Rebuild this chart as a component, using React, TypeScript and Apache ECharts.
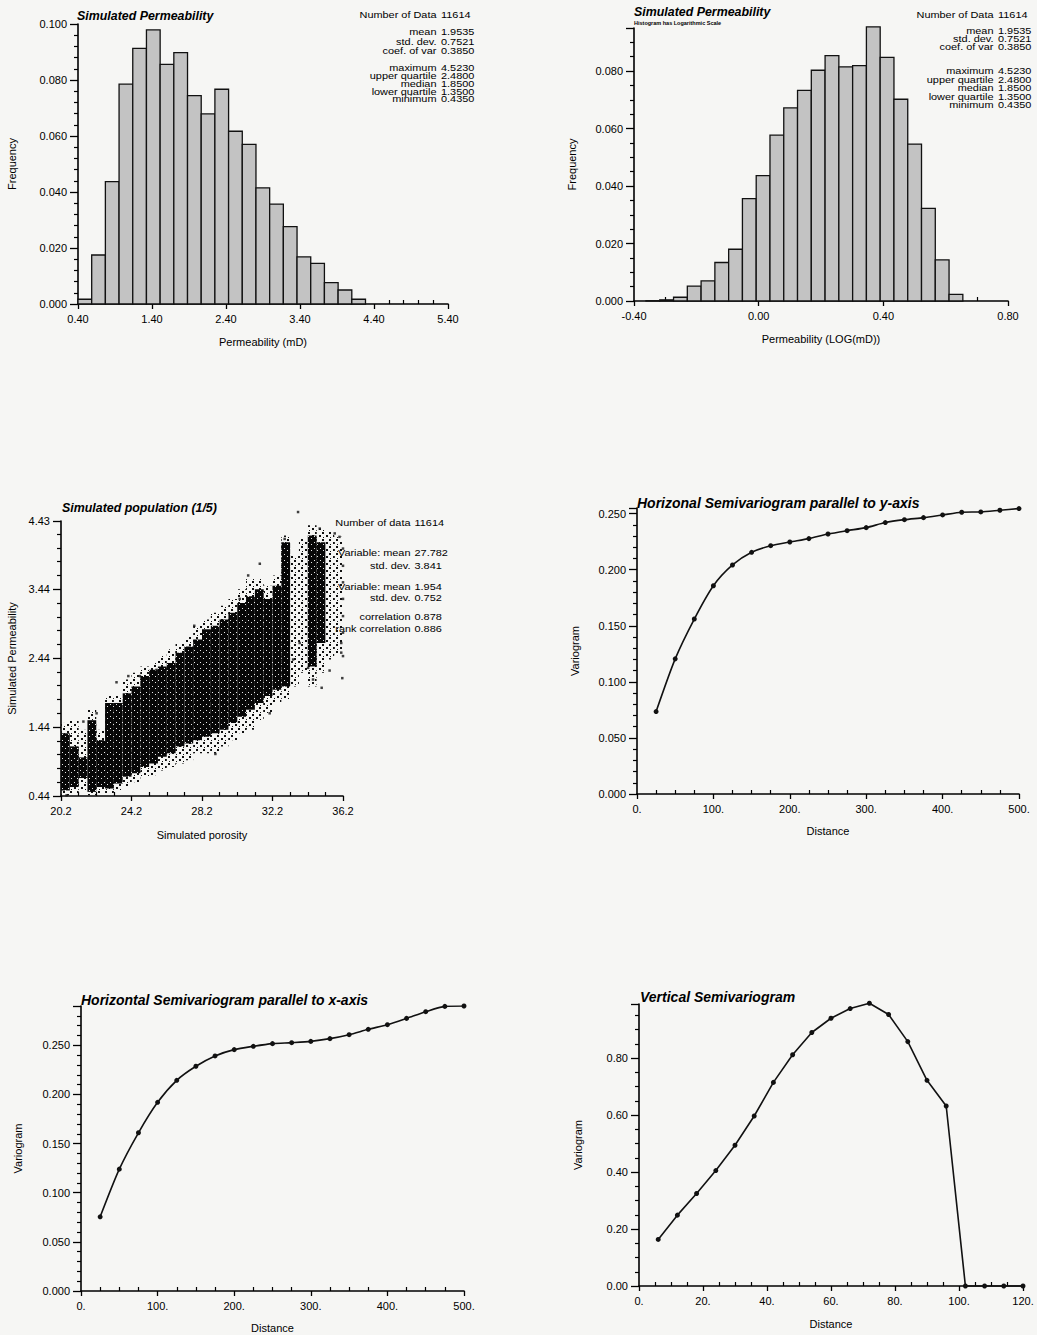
import React, { useEffect, useRef } from 'react';
import * as echarts from 'echarts';

const FONT = '"Liberation Sans", Arial, Helvetica, sans-serif';

// ---------- Histogram 1 : Permeability (mD) ----------
const permBinStart = 0.4;
const permBinWidth = 0.185;
const permFreq = [0.0017, 0.0175, 0.0437, 0.0785, 0.0913, 0.0979, 0.0856, 0.0898, 0.0744, 0.0679, 0.0767,
  0.0617, 0.057, 0.0415, 0.0357, 0.0276, 0.0168, 0.0145, 0.0076, 0.005, 0.0017];

// ---------- Histogram 2 : Permeability LOG(mD) ----------
const logBinStart = -0.3615;
const logBinWidth = 0.0442;
const logFreq = [0.0001, 0.0004, 0.0013, 0.0052, 0.007, 0.0134, 0.018, 0.0356, 0.0436, 0.0577, 0.0672, 0.0733,
  0.0803, 0.0854, 0.0815, 0.0819, 0.0954, 0.0848, 0.0702, 0.0546, 0.0322, 0.0143, 0.0023];

// ---------- Statistics ----------
const histStatLabels = ['Number of Data', 'mean', 'std. dev.', 'coef. of var', 'maximum', 'upper quartile', 'median', 'lower quartile', 'minimum'];
const histStatValues = ['11614', '1.9535', '0.7521', '0.3850', '4.5230', '2.4800', '1.8500', '1.3500', '0.4350'];
const scatStatLabels = ['Number of data', 'Variable: mean', 'std. dev.', 'Variable: mean', 'std. dev.', 'correlation', 'rank correlation'];
const scatStatValues = ['11614', '27.782', '3.841', '1.954', '0.752', '0.878', '0.886'];

// ---------- Scatter: porosity vs permeability (cloud envelope per porosity bin) ----------
const poroBinLeft = [20.2, 20.7, 21.2, 21.7, 22.2, 22.7, 23.2, 23.7, 24.2, 24.7, 25.2, 25.7, 26.2, 26.7, 27.2, 27.7,
  28.2, 28.7, 29.2, 29.7, 30.2, 30.7, 31.2, 31.7, 32.2, 32.7, 33.2, 33.7, 34.2, 34.7, 35.2, 35.7];
const poroBinWidth = 0.5;
const coreLow = [0.52, 0.57, 0.7, 0.5, 0.57, 0.55, 0.62, 0.72, 0.77, 0.86, 0.91, 1.01, 1.06, 1.16, 1.2, 1.25,
  1.3, 1.35, 1.4, 1.5, 1.59, 1.69, 1.79, 1.89, 1.98, 2.03, null, null, 2.32, 2.66, null, null];
const coreHigh = [1.35, 1.16, 1.0, 1.54, 1.25, 1.79, 1.79, 1.93, 2.03, 2.18, 2.27, 2.32, 2.37, 2.52, 2.61, 2.71,
  2.86, 2.91, 3.0, 3.1, 3.24, 3.34, 3.44, 3.3, 3.49, 4.12, null, null, 4.22, 4.12, null, null];
const haloLow = [0.45, 0.47, 0.52, 0.45, 0.47, 0.47, 0.52, 0.57, 0.64, 0.72, 0.74, 0.81, 0.86, 0.91, 0.96, 1.06,
  1.06, 1.06, 1.16, 1.25, 1.35, 1.4, 1.54, 1.64, 1.79, 1.84, 2.03, 2.23, 2.03, 2.23, 2.42, 2.5];
const haloHigh = [1.5, 1.54, 1.4, 1.69, 1.4, 1.89, 1.89, 2.13, 2.23, 2.32, 2.37, 2.47, 2.57, 2.66, 2.76, 2.91,
  3.0, 3.1, 3.2, 3.3, 3.44, 3.59, 3.59, 3.49, 3.64, 4.22, 3.93, 4.17, 4.37, 4.32, 4.27, 4.2];
const outlierPoro = [33.65, 23.35, 34.5, 34.99, 36.16, 28.96, 32.04, 22.22, 21.47, 35.44, 36.1, 36.1, 34.88, 35.73,
  36.0, 36.2, 36.2, 36.2, 36.2, 36.2, 36.2, 36.2, 31.48, 32.89, 27.76, 20.52, 25.62, 24.68, 24.02, 30.82, 30.34,
  33.37, 33.74, 34.22];
const outlierPerm = [4.56, 2.09, 2.13, 2.01, 2.15, 1.05, 1.64, 1.64, 1.52, 2.26, 2.66, 2.52, 4.32, 4.25, 4.2, 4.03,
  3.78, 3.54, 3.3, 3.05, 2.81, 2.47, 3.81, 4.17, 2.91, 0.45, 2.27, 2.18, 2.18, 3.64, 3.3, 2.42, 2.66, 2.3];

// ---------- Semivariograms ----------
const varYDist = [25, 50, 75, 100, 125, 150, 175, 200, 225, 250, 275, 300, 325, 350, 375, 400, 425, 450, 475, 500];
const varYValue = [0.0735, 0.1205, 0.156, 0.1857, 0.2042, 0.2155, 0.2214, 0.2247, 0.2277, 0.2318, 0.2348, 0.2375,
  0.242, 0.2446, 0.2464, 0.2488, 0.2512, 0.2515, 0.253, 0.2545];
const varXDist = [25, 50, 75, 100, 125, 150, 175, 200, 225, 250, 275, 300, 325, 350, 375, 400, 425, 450, 475, 500];
const varXValue = [0.0755, 0.124, 0.161, 0.192, 0.2144, 0.2287, 0.2392, 0.2456, 0.249, 0.2517, 0.2527, 0.254,
  0.2568, 0.2608, 0.2663, 0.271, 0.2774, 0.2842, 0.2896, 0.29];
const vertDist = [6, 12, 18, 24, 30, 36, 42, 48, 54, 60, 66, 72, 78, 84, 90, 96, 102, 108, 114, 120];
const vertValue = [0.1635, 0.2488, 0.3247, 0.4053, 0.494, 0.5968, 0.7148, 0.8117, 0.89, 0.94, 0.974, 0.9927, 0.953,
  0.858, 0.722, 0.632, 0, 0, 0, 0];

function makePattern(size: number, bg: string | null, dots: number[][], dotColor: string) {
  const c = document.createElement('canvas');
  c.width = size;
  c.height = size;
  const ctx = c.getContext('2d')!;
  if (bg) {
    ctx.fillStyle = bg;
    ctx.fillRect(0, 0, size, size);
  }
  ctx.fillStyle = dotColor;
  dots.forEach(([x, y, w, h]) => ctx.fillRect(x, y, w, h));
  return { image: c.toDataURL(), repeat: 'repeat', imageWidth: size, imageHeight: size };
}

function isStep(v: number, min: number, interval: number) {
  const k = (v - min) / interval;
  return Math.abs(k - Math.round(k)) < 1e-6;
}

function makeAxis(dim: 'x' | 'y', grid: number, min: number, max: number, interval: number, minor: number,
  fmt: (v: number) => string, name: string, nameGap: number, showMax = false) {
  const isX = dim === 'x';
  return {
    type: 'value',
    gridIndex: grid,
    min,
    max,
    interval,
    name,
    nameLocation: 'middle',
    nameGap,
    nameTextStyle: { color: '#000', fontSize: 11, fontFamily: FONT },
    axisLine: { show: true, onZero: false, lineStyle: { color: '#000', width: 1.6 } },
    axisTick: { show: true, length: isX ? 5 : 8, lineStyle: { color: '#000', width: 1.3 } },
    minorTick: { show: true, splitNumber: minor, length: isX ? -4 : 4, lineStyle: { color: '#000', width: 1.2 } },
    splitLine: { show: false },
    minorSplitLine: { show: false },
    axisLabel: {
      color: '#000',
      fontSize: 11,
      fontFamily: FONT,
      margin: isX ? 9 : 11,
      hideOverlap: false,
      showMaxLabel: true,
      formatter: (v: number) => (isStep(v, min, interval) || (showMax && Math.abs(v - max) < 1e-9) ? fmt(v) : ''),
    },
  };
}

function statBlock(labels: string[], values: string[], rows: number[], xr: number, xv: number) {
  const els: any[] = [];
  labels.forEach((l, i) => {
    const common = { fill: '#000', fontSize: 8.8, fontFamily: FONT, verticalAlign: 'middle', textVerticalAlign: 'middle' };
    els.push({ type: 'text', x: xr, y: rows[i], scaleX: 1.24, style: { ...common, text: l, align: 'right', textAlign: 'right' } });
    els.push({ type: 'text', x: xv, y: rows[i], scaleX: 1.24, style: { ...common, text: values[i], align: 'left', textAlign: 'left' } });
  });
  return els;
}

function title(text: string, x: number, y: number, size = 12) {
  return {
    type: 'text',
    x,
    y,
    style: {
      text,
      fill: '#000',
      fontSize: size,
      fontWeight: 'bold',
      fontStyle: 'italic',
      fontFamily: FONT,
      verticalAlign: 'middle',
      textVerticalAlign: 'middle',
      align: 'left',
      textAlign: 'left',
    },
  };
}

export default function App() {
  const ref = useRef<HTMLDivElement>(null);
  useEffect(() => {
    if (!ref.current) return;
    const chart = echarts.init(ref.current, null, { renderer: 'svg' });

    const densePattern = makePattern(6, '#070707', [[2, 2, 1, 1], [5, 4, 1, 1]], '#e8e8e8');
    const haloPattern = makePattern(7, null, [[0, 0, 2, 2], [4, 3, 2, 2], [1, 5, 1, 1]], '#111');

    const permData = permFreq.map((f, i) => [permBinStart + i * permBinWidth, permBinStart + (i + 1) * permBinWidth, f]);
    const logData = logFreq.map((f, i) => [logBinStart + i * logBinWidth, logBinStart + (i + 1) * logBinWidth, f]);
    const haloData = poroBinLeft.map((p, i) => [p, p + poroBinWidth, haloLow[i], haloHigh[i]]);
    const coreData = poroBinLeft
      .map((p, i) => [p, p + poroBinWidth, coreLow[i], coreHigh[i]])
      .filter((d) => d[2] != null && d[3] != null);

    const barRender = (params: any, api: any) => {
      const a = api.coord([api.value(0), api.value(2)]);
      const b = api.coord([api.value(1), 0]);
      return {
        type: 'rect',
        shape: { x: a[0], y: a[1], width: b[0] - a[0], height: b[1] - a[1] },
        style: { fill: '#c3c3c3', stroke: '#111', lineWidth: 1.3 },
      };
    };
    const bandRender = (fill: any) => (params: any, api: any) => {
      const a = api.coord([api.value(0), api.value(3)]);
      const b = api.coord([api.value(1), api.value(2)]);
      return {
        type: 'rect',
        shape: { x: a[0], y: a[1], width: b[0] - a[0], height: b[1] - a[1] },
        style: { fill },
      };
    };

    const f2 = (v: number) => v.toFixed(2);
    const f3 = (v: number) => v.toFixed(3);
    const f1 = (v: number) => v.toFixed(1);
    const fd = (v: number) => `${Math.round(v)}.`;

    const lineStyle = { color: '#111', width: 1.6 };

    const option: any = {
      animation: false,
      backgroundColor: '#f6f6f4',
      grid: [
        { left: 78, top: 24, width: 370, height: 280 },
        { left: 634, top: 28, width: 374, height: 273 },
        { left: 61, top: 521, width: 282, height: 275 },
        { left: 637, top: 508, width: 382, height: 286 },
        { left: 81, top: 1006, width: 383, height: 285 },
        { left: 639, top: 1004, width: 384, height: 282 },
      ],
      xAxis: [
        makeAxis('x', 0, 0.4, 5.4, 1, 5, f2, 'Permeability (mD)', 32),
        makeAxis('x', 1, -0.4, 0.8, 0.4, 4, f2, 'Permeability (LOG(mD))', 32),
        makeAxis('x', 2, 20.2, 36.2, 4, 4, f1, 'Simulated porosity', 33),
        makeAxis('x', 3, 0, 500, 100, 4, fd, 'Distance', 31),
        makeAxis('x', 4, 0, 500, 100, 4, fd, 'Distance', 31),
        makeAxis('x', 5, 0, 120, 20, 4, fd, 'Distance', 32),
      ],
      yAxis: [
        makeAxis('y', 0, 0, 0.1, 0.02, 5, f3, 'Frequency', 61),
        makeAxis('y', 1, 0, 0.095, 0.02, 4, f3, 'Frequency', 57),
        makeAxis('y', 2, 0.44, 4.43, 1, 5, f2, 'Simulated Permeability', 44, true),
        makeAxis('y', 3, 0, 0.255, 0.05, 5, f3, 'Variogram', 57),
        makeAxis('y', 4, 0, 0.29, 0.05, 5, f3, 'Variogram', 58),
        makeAxis('y', 5, 0, 0.99, 0.2, 4, f2, 'Variogram', 56),
      ],
      series: [
        {
          type: 'custom', name: 'permHist', xAxisIndex: 0, yAxisIndex: 0,
          encode: { x: [0, 1], y: 2 }, data: permData, renderItem: barRender,
        },
        {
          type: 'custom', name: 'logHist', xAxisIndex: 1, yAxisIndex: 1,
          encode: { x: [0, 1], y: 2 }, data: logData, renderItem: barRender,
        },
        {
          type: 'custom', name: 'halo', xAxisIndex: 2, yAxisIndex: 2, z: 2,
          encode: { x: [0, 1], y: [2, 3] }, data: haloData, renderItem: bandRender(haloPattern),
        },
        {
          type: 'custom', name: 'core', xAxisIndex: 2, yAxisIndex: 2, z: 3,
          encode: { x: [0, 1], y: [2, 3] }, data: coreData, renderItem: bandRender(densePattern),
        },
        {
          type: 'scatter', name: 'outliers', xAxisIndex: 2, yAxisIndex: 2, z: 4, clip: false,
          symbol: 'rect', symbolSize: 2.5, itemStyle: { color: '#111' },
          data: outlierPoro.map((p, i) => [p, outlierPerm[i]]),
        },
        {
          type: 'line', name: 'varY', xAxisIndex: 3, yAxisIndex: 3, smooth: 0.25,
          symbol: 'circle', symbolSize: 5, showSymbol: true, lineStyle, itemStyle: { color: '#111' },
          data: varYDist.map((d, i) => [d, varYValue[i]]),
        },
        {
          type: 'line', name: 'varX', xAxisIndex: 4, yAxisIndex: 4, smooth: 0.25,
          symbol: 'circle', symbolSize: 5, showSymbol: true, lineStyle, itemStyle: { color: '#111' },
          data: varXDist.map((d, i) => [d, varXValue[i]]),
        },
        {
          type: 'line', name: 'vert', xAxisIndex: 5, yAxisIndex: 5, smooth: false, clip: false,
          symbol: 'circle', symbolSize: 5, showSymbol: true, lineStyle, itemStyle: { color: '#111' },
          data: vertDist.map((d, i) => [d, vertValue[i]]),
        },
      ],
      graphic: {
        elements: [
          title('Simulated Permeability', 77, 15.5, 12.4),
          title('Simulated Permeability', 634, 12, 12.4),
          {
            type: 'text', x: 634, y: 23,
            style: {
              text: 'Histogram has Logarithmic Scale', fill: '#000', fontSize: 5.5, fontWeight: 'bold',
              fontFamily: FONT, verticalAlign: 'middle', textVerticalAlign: 'middle', align: 'left', textAlign: 'left',
            },
          },
          title('Simulated population (1/5)', 62, 508, 12.4),
          title('Horizonal Semivariogram parallel to y-axis', 637, 503, 14),
          title('Horizontal Semivariogram parallel to x-axis', 81, 1000, 14),
          title('Vertical Semivariogram', 640, 997, 14),
          ...statBlock(histStatLabels, histStatValues, [15, 32, 41.5, 50.5, 68, 76, 84, 91.5, 99], 436.5, 441),
          ...statBlock(histStatLabels, histStatValues, [14.5, 30.5, 39, 47, 70.5, 79.5, 88, 96.5, 105], 993.5, 998),
          ...statBlock(scatStatLabels, scatStatValues, [523, 553, 566, 586.5, 598, 617, 629], 410.5, 414.5),
        ],
      },
    };
    chart.setOption(option);
    return () => chart.dispose();
  }, []);
  return <div ref={ref} style={{ position: 'absolute', left: 0, top: 0, width: 1037, height: 1335 }} />;
}
